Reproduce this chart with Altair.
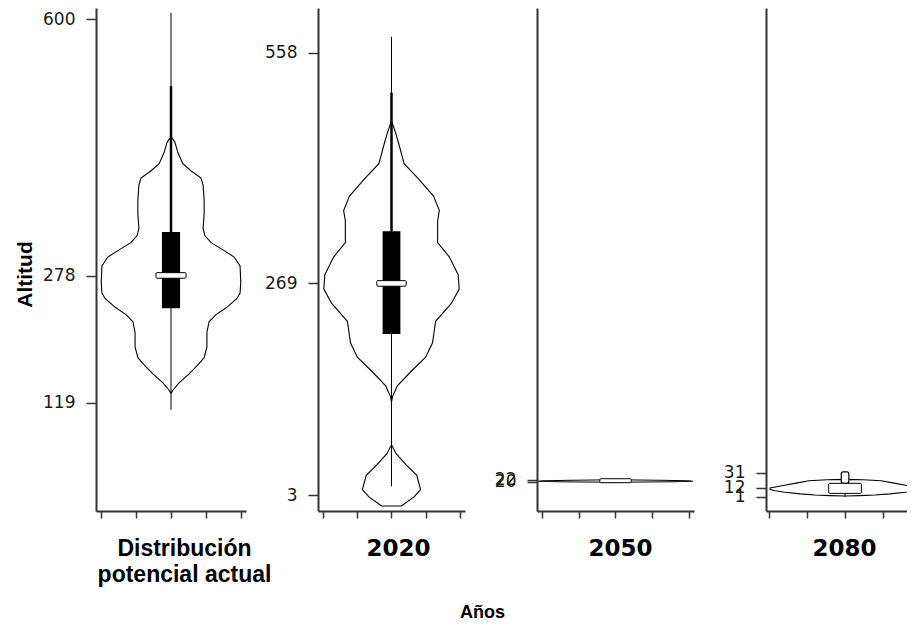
import altair as alt
import pandas as pd

# ---------------- data ----------------
PANEL_TITLES = [["Distribución", "potencial actual"], ["2020"], ["2050"], ["2080"]]
Y_TICKS = [[119, 278, 600], [3, 269, 558], [20, 22], [1, 12, 31]]

# violin outlines: altitude, half width (in x-axis units), part id
V1_ALT = [130.3, 134.8, 143.8, 155.1, 166.3, 175.3, 188.9, 206.9, 220.4, 229.4, 238.5, 249.7,
          256.5, 270.0, 290.3, 301.6, 310.6, 319.6, 328.6, 337.6, 355.7, 373.7, 391.7, 400.7,
          409.8, 418.8, 432.3, 445.8, 452.6]
V1_HW = [0.0, 0.06, 0.23, 0.52, 0.77, 0.95, 1.03, 1.03, 1.09, 1.29, 1.60, 1.89,
         1.98, 2.00, 1.98, 1.81, 1.49, 1.15, 0.97, 0.92, 0.95, 0.95, 0.92, 0.86,
         0.57, 0.34, 0.20, 0.11, 0.0]
V1_PART = [0] * len(V1_ALT)

V2_ALT = [-10.8, 0.7, 9.7, 27.7, 41.0, 54.6, 66.0,
          119.8, 126.5, 140.0, 158.0, 176.0, 194.0, 221.0, 243.4, 261.4, 279.4, 301.8,
          319.8, 346.8, 360.0, 378.0, 400.7, 418.7, 445.6, 459.0, 472.0]
V2_HW = [0.29, 0.66, 0.85, 0.74, 0.43, 0.14, 0.0,
         0.0, 0.03, 0.17, 0.57, 1.00, 1.20, 1.29, 1.75, 1.98, 1.95, 1.69,
         1.35, 1.35, 1.40, 1.23, 0.77, 0.37, 0.20, 0.11, 0.0]
V2_PART = [0] * 7 + [1] * 20

V3_ALT = [19.0, 19.7, 20.3, 21.0, 21.6, 22.2]
V3_HW = [0.0, 1.6, 2.12, 2.0, 1.2, 0.0]
V3_PART = [0] * len(V3_ALT)

V4_ALT = [1.8, 2.3, 3.0, 4.5, 6.5, 8.5, 10.0, 12.0, 15.0, 18.0, 21.0, 22.2, 22.7]
V4_HW = [0.0, 0.39, 0.79, 1.18, 1.58, 1.84, 1.97, 1.97, 1.63, 1.29, 0.95, 0.47, 0.0]
V4_PART = [0] * len(V4_ALT)

VIOLIN_ALT = [V1_ALT, V2_ALT, V3_ALT, V4_ALT]
VIOLIN_HW = [V1_HW, V2_HW, V3_HW, V4_HW]
VIOLIN_PART = [V1_PART, V2_PART, V3_PART, V4_PART]

WHISKER_LO = [110.0, 14.0, 20.0, 0.5]
WHISKER_HI = [608.0, 578.0, 21.0, 32.0]
UPPER_BASE = [333.0, 334.0, None, 17.7]
UPPER_TOP = [516.0, 507.7, None, 32.0]
BOX_LO = [237.5, 205.0, None, None]
BOX_HI = [333.0, 334.0, None, None]
MED_LO = [275.0, 265.0, 18.5, 5.1]
MED_HI = [282.0, 272.0, 23.5, 17.7]

# ---------------- styles ----------------
CENTER = 2
BOX_HALF = 0.26
MED_HALF = 0.43
OUTLINE_HALF = 0.1
FONT = "Liberation Sans"
NUM_FONT = "DejaVu Sans"
INK = "#1a1a1a"
AXIS_INK = "#333333"
PANEL_W = [150, 147, 157, 141]
PANEL_H = 503
X_DOMAIN = [[-0.15, 4.15], [-0.15, 4.15], [-0.15, 4.15], [-0.08, 3.63]]
X_TICKS = [[0, 1, 2, 3, 4], [0, 1, 2, 3, 4], [0, 1, 2, 3, 4], [0, 1, 2, 3]]
TITLE_X = [88, 80, 83, 78]

yscale = alt.Scale(domain=[-17, 614], nice=False, zero=False)


def y_axis(i):
    kw = dict(values=Y_TICKS[i], tickSize=10, labelPadding=11, labelFontSize=17,
              labelFont=NUM_FONT, labelColor=INK, domainColor=AXIS_INK, domainWidth=2,
              tickColor=AXIS_INK, tickWidth=1.5, grid=False, labelOverlap=False,
              minExtent=52, maxExtent=52, titleFontSize=21, titleFont=FONT,
              titleFontWeight="bold", titleColor="black", titlePadding=9)
    if i == 0:
        kw.update(title="Altitud", titleY=266)
    else:
        kw["title"] = None
    return alt.Axis(**kw)


def x_axis(i):
    kw = dict(values=X_TICKS[i], labels=False, tickSize=7, tickWidth=1.5,
              tickColor=AXIS_INK, domainColor=AXIS_INK, domainWidth=2, grid=False,
              title=PANEL_TITLES[i], titleFontWeight="bold", titleColor="black",
              titlePadding=19, titleLineHeight=26, titleX=TITLE_X[i])
    if i == 0:
        kw.update(titleFont=FONT, titleFontSize=23)
    else:
        kw.update(titleFont=NUM_FONT, titleFontSize=23)
    return alt.Axis(**kw)


def violin_outline(i):
    rows = []
    alts, hws, parts = VIOLIN_ALT[i], VIOLIN_HW[i], VIOLIN_PART[i]
    for p in sorted(set(parts)):
        pts = sorted([(a, h) for a, h, q in zip(alts, hws, parts) if q == p])
        seq = 0
        for a, h in pts:
            rows.append({"part": p, "seq": seq, "alt": a, "x": CENTER - h}); seq += 1
        for a, h in reversed(pts):
            rows.append({"part": p, "seq": seq, "alt": a, "x": CENTER + h}); seq += 1
        a, h = pts[0]
        rows.append({"part": p, "seq": seq, "alt": a, "x": CENTER - h})
    return pd.DataFrame(rows)


def panel(i):
    ya = y_axis(i)
    xa = x_axis(i)
    xscale = alt.Scale(domain=X_DOMAIN[i], nice=False, zero=False)
    violin = alt.Chart(violin_outline(i)).mark_line(
        color="black", strokeWidth=1.1, interpolate="linear", clip=True).encode(
        y=alt.Y("alt:Q", scale=yscale, axis=ya),
        x=alt.X("x:Q", scale=xscale, axis=xa),
        detail="part:N",
        order=alt.Order("seq:Q"),
    )
    layers = [violin]

    wdf = pd.DataFrame({"lo": [WHISKER_LO[i]], "hi": [WHISKER_HI[i]]})
    layers.append(alt.Chart(wdf).transform_calculate(cx=str(CENTER)).mark_rule(
        color="black", strokeWidth=1).encode(
        y=alt.Y("lo:Q", scale=yscale, axis=ya), y2="hi:Q",
        x=alt.X("cx:Q", scale=xscale, axis=xa)))

    if UPPER_TOP[i] is not None:
        udf = pd.DataFrame({"lo": [UPPER_BASE[i]], "hi": [UPPER_TOP[i]]})
        if i == 3:
            layers.append(alt.Chart(udf).transform_calculate(
                a=f"{CENTER} - {OUTLINE_HALF}", b=f"{CENTER} + {OUTLINE_HALF}").mark_rect(
                fill="white", stroke="black", strokeWidth=1.2, cornerRadius=2).encode(
                y=alt.Y("lo:Q", scale=yscale, axis=ya), y2="hi:Q",
                x=alt.X("a:Q", scale=xscale, axis=xa), x2="b:Q"))
        else:
            layers.append(alt.Chart(udf).transform_calculate(cx=str(CENTER)).mark_rule(
                color="black", strokeWidth=2.5).encode(
                y=alt.Y("lo:Q", scale=yscale, axis=ya), y2="hi:Q",
                x=alt.X("cx:Q", scale=xscale, axis=xa)))

    if BOX_LO[i] is not None:
        bdf = pd.DataFrame({"lo": [BOX_LO[i]], "hi": [BOX_HI[i]]})
        layers.append(alt.Chart(bdf).transform_calculate(
            a=f"{CENTER} - {BOX_HALF}", b=f"{CENTER} + {BOX_HALF}").mark_rect(
            color="black").encode(
            y=alt.Y("lo:Q", scale=yscale, axis=ya), y2="hi:Q",
            x=alt.X("a:Q", scale=xscale, axis=xa), x2="b:Q"))

    mdf = pd.DataFrame({"lo": [MED_LO[i]], "hi": [MED_HI[i]]})
    layers.append(alt.Chart(mdf).transform_calculate(
        a=f"{CENTER} - {MED_HALF}", b=f"{CENTER} + {MED_HALF}").mark_rect(
        fill="white", stroke="black", strokeWidth=1, cornerRadius=1).encode(
        y=alt.Y("lo:Q", scale=yscale, axis=ya), y2="hi:Q",
        x=alt.X("a:Q", scale=xscale, axis=xa), x2="b:Q"))

    return alt.layer(*layers).properties(width=PANEL_W[i], height=PANEL_H)


chart = alt.hconcat(*[panel(i) for i in range(4)], spacing=72, bounds="flush").properties(
    title=alt.TitleParams("Años", orient="bottom", anchor="middle", fontSize=18,
                          font=FONT, fontWeight="bold", color="black", dx=22, offset=17),
    padding={"left": 6, "top": 0, "right": 0, "bottom": 0},
    background="white",
).configure_view(stroke=None)

chart.save("out.html", embed_options={"renderer": "svg", "actions": False})
